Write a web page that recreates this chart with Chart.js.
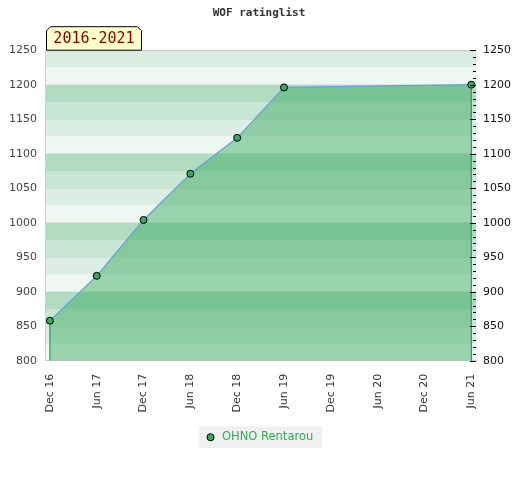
<!doctype html>
<html>
<head>
	<title>WOF ratinglist</title>
	<script src="https://cdn.jsdelivr.net/npm/chart.js@4.4.0/dist/chart.umd.min.js"></script>
	<style>
		body { margin: 0; background: #fff; }
		#wrap { width: 520px; height: 480px; }
	</style>
</head>
<body>
	<div id="wrap"><canvas id="canvas" width="520" height="480"></canvas></div>
	<script>
		// months since Dec 2016, one tick every half year
		var monthPos = [0, 6, 12, 18, 24, 30, 36, 42, 48, 54];
		var tickLabels = ['Dec 16', 'Jun 17', 'Dec 17', 'Jun 18', 'Dec 18', 'Jun 19', 'Dec 19', 'Jun 20', 'Dec 20', 'Jun 21'];
		var ratings = [858, 923, 1004, 1071, 1123, 1196, null, null, null, 1200];
		var playerName = 'OHNO Rentarou';
		var chartTitle = 'WOF ratinglist';
		var tagText = '2016-2021';
		var yMin = 800, yMax = 1250;

		var points = [];
		monthPos.forEach(function (m, i) {
			points.push({ x: m, y: ratings[i] });
		});

		// background stripes every 25 points
		var stripeColors = { 0: '#eff7f2', 25: '#dcede3', 50: '#c9e6d4', 75: '#b2dcc2' };

		var decor = {
			id: 'decor',
			beforeDraw: function (chart) {
				var c = chart.ctx, a = chart.chartArea, ys = chart.scales.y;
				c.save();
				for (var v = yMin; v < yMax; v += 25) {
					var top = ys.getPixelForValue(v + 25), bot = ys.getPixelForValue(v);
					c.fillStyle = stripeColors[((v % 100) + 100) % 100];
					c.fillRect(a.left, top, a.right - a.left, bot - top);
				}
				// top border
				c.strokeStyle = '#d4d4d4';
				c.lineWidth = 1;
				c.beginPath();
				c.moveTo(a.left, a.top + 0.5);
				c.lineTo(a.right, a.top + 0.5);
				c.stroke();
				// legend background
				var hb = chart.legend.legendHitBoxes[0];
				if (hb) {
					c.fillStyle = '#f0f0f0';
					c.fillRect(hb.left - 6, hb.top - 5, hb.width + 15, hb.height + 10);
				}
				c.restore();
			},
			afterDatasetsDraw: function (chart) {
				var c = chart.ctx, a = chart.chartArea;
				var meta = chart.getDatasetMeta(0).data.filter(function (p) { return !p.skip; });
				c.save();
				c.strokeStyle = '#2e9a55';
				c.lineWidth = 1.2;
				[meta[0], meta[meta.length - 1]].forEach(function (p) {
					c.beginPath();
					c.moveTo(p.x, p.y + 4);
					c.lineTo(p.x, a.bottom);
					c.stroke();
				});
				c.restore();
			},
			afterDraw: function (chart) {
				var c = chart.ctx, a = chart.chartArea, ys = chart.scales.y2;
				c.save();
				// right axis ticks, minor every 10
				c.strokeStyle = '#000';
				c.lineWidth = 1;
				for (var v = yMin; v <= yMax; v += 10) {
					var py = Math.round(ys.getPixelForValue(v)) + 0.5;
					var len = (v % 50 === 0) ? 6 : 3;
					c.beginPath();
					c.moveTo(a.right - len, py);
					c.lineTo(a.right, py);
					c.stroke();
				}
				// period tag
				var x0 = a.left + 0.5, x1 = a.left + 95.5, y1 = a.top, y0 = a.top - 23.5, k = 4;
				c.beginPath();
				c.moveTo(x0, y1);
				c.lineTo(x0, y0 + k);
				c.lineTo(x0 + k, y0);
				c.lineTo(x1 - k, y0);
				c.lineTo(x1, y0 + k);
				c.lineTo(x1, y1);
				c.closePath();
				c.fillStyle = '#ffffcc';
				c.fill();
				c.strokeStyle = '#000';
				c.stroke();
				c.fillStyle = '#8b0000';
				c.font = '15px "DejaVu Sans Mono"';
				c.textAlign = 'center';
				c.textBaseline = 'middle';
				c.fillText(tagText, (x0 + x1) / 2, (y0 + y1) / 2 + 1);
				c.restore();
			}
		};

		var plainNum = function (v) { return String(v); };

		var ctx = document.getElementById('canvas').getContext('2d');
		window.myChart = new Chart(ctx, {
			type: 'line',
			data: {
				datasets: [{
					label: playerName,
					data: points,
					borderColor: '#62a3d9',
					borderWidth: 1.2,
					backgroundColor: 'rgba(52,168,92,0.46)',
					fill: 'start',
					tension: 0,
					spanGaps: true,
					pointRadius: 3.5,
					pointBackgroundColor: '#3aa65e',
					pointBorderColor: '#000',
					pointBorderWidth: 1
				}]
			},
			plugins: [decor],
			options: {
				responsive: false,
				animation: false,
				layout: { padding: { left: 0, right: 2, top: 0, bottom: 27 } },
				plugins: {
					title: {
						display: true,
						text: chartTitle,
						color: '#333',
						font: { family: 'DejaVu Sans Mono', size: 11, weight: 'bold' },
						padding: { top: 7, bottom: 30 }
					},
					legend: {
						position: 'bottom',
						labels: {
							color: '#33aa5a',
							font: { family: 'DejaVu Sans', size: 11.5 },
							usePointStyle: true,
							boxWidth: 16,
							boxHeight: 5,
							padding: 14,
							generateLabels: function (chart) {
								return [{
									text: playerName,
									fillStyle: '#3aa65e',
									strokeStyle: '#000',
									lineWidth: 1,
									pointStyle: 'circle',
									datasetIndex: 0,
									fontColor: '#33aa5a'
								}];
							}
						}
					},
					tooltip: { enabled: false }
				},
				scales: {
					x: {
						type: 'linear',
						min: -0.5,
						max: 54.6,
						afterBuildTicks: function (scale) {
							scale.ticks = monthPos.map(function (m) { return { value: m }; });
						},
						grid: { display: false },
						border: { display: true, color: '#cfcfcf' },
						ticks: {
							color: '#333',
							font: { family: 'DejaVu Sans', size: 11 },
							minRotation: 90,
							maxRotation: 90,
							padding: 5,
							autoSkip: false,
							callback: function (v) { return tickLabels[monthPos.indexOf(v)]; }
						}
					},
					y: {
						position: 'left',
						min: yMin,
						max: yMax,
						grid: { color: 'rgba(0,0,0,0.07)', drawTicks: false },
						border: { color: '#cfcfcf' },
						ticks: {
							stepSize: 50,
							color: '#444',
							padding: 9,
							font: { family: 'DejaVu Sans', size: 11 },
							callback: plainNum
						}
					},
					y2: {
						position: 'right',
						min: yMin,
						max: yMax,
						grid: { drawOnChartArea: false, drawTicks: false },
						border: { display: false },
						ticks: {
							stepSize: 50,
							color: '#111',
							padding: 7,
							font: { family: 'DejaVu Sans', size: 11 },
							callback: plainNum
						}
					}
				}
			}
		});
	</script>
</body>
</html>
